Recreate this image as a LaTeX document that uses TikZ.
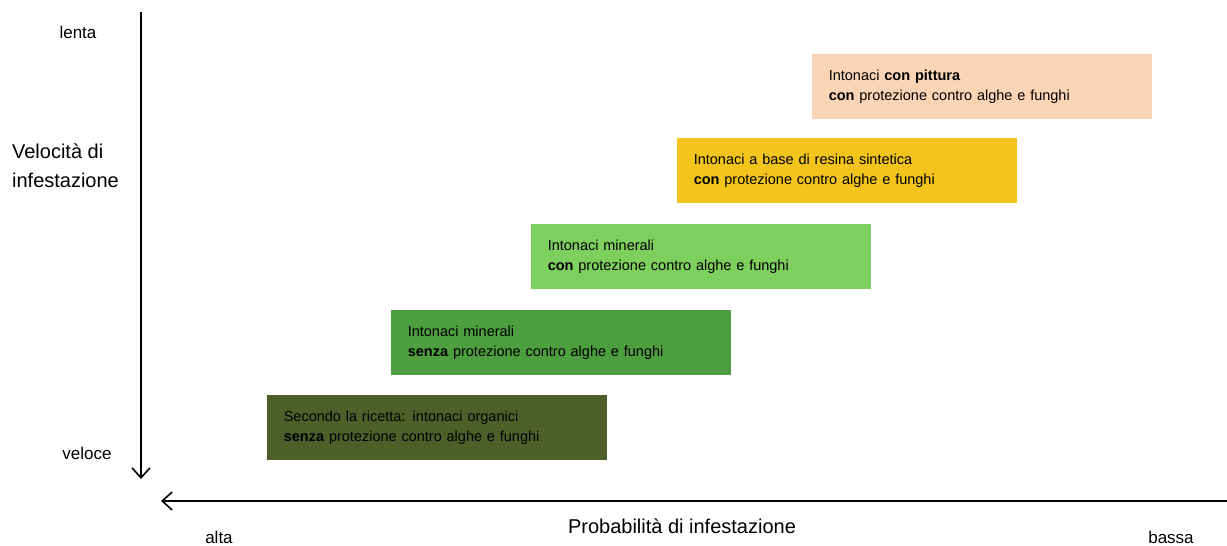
\documentclass[tikz,border=0pt]{standalone}
\usepackage{fontspec}
\setmainfont{Liberation Sans}
\usetikzlibrary{arrows.meta}
\usetikzlibrary{positioning}

\definecolor{peach}{HTML}{FAD4B4}
\definecolor{ochre}{HTML}{F2C41C}
\definecolor{lightgreen}{HTML}{7ED05E}
\definecolor{midgreen}{HTML}{4C9E3E}
\definecolor{olive}{HTML}{4E5F2A}

\begin{document}
\begin{tikzpicture}[x=1pt,y=-1pt,>={Straight Barb[length=10pt,width=18pt]},
					line width=1.6pt]
					\tikzstyle{plaster}=[anchor=north west,minimum width=340pt,minimum height=65pt,
					text width=306pt,inner xsep=17pt,inner ysep=0pt,align=left,
					font=\fontsize{14.5}{20}\selectfont]
					\tikzstyle{axislabel}=[inner sep=0pt,font=\fontsize{17}{20}\selectfont]
					
					\useasboundingbox (0,0) rectangle (1227,546);
					
					% assi
					\coordinate (v_top) at (141,12);
					\coordinate (v_bot) at (141,479);
					\coordinate (h_right) at (1227,501);
					\coordinate (h_left) at (161,501);
					\draw[->] (v_top) -- (v_bot);
					\draw[->] (h_right) -- (h_left);
					
					\node[axislabel] (lenta)  at (78,32)  {lenta};
					\node[axislabel] (veloce) at (87,453) {veloce};
					\node[anchor=west,align=left,font=\fontsize{20}{29}\selectfont] (vel) at (8,166)
						{Velocità di\\infestazione};
					\node[axislabel] (alta)  at (219,537)  {alta};
					\node[axislabel] (bassa) at (1171,537) {bassa};
					\node[font=\fontsize{20}{24}\selectfont] (prob) at (682,526) {Probabilità di infestazione};
					
					% intonaci
					\node[plaster,fill=peach]      (P_5) at (811,53)
						{Intonaci \textbf{con pittura}\\\textbf{con} protezione contro alghe e funghi\\[4pt]};
					\node[plaster,fill=ochre]      (P_4) at (676,137)
						{Intonaci a base di resina sintetica\\\textbf{con} protezione contro alghe e funghi\\[4pt]};
					\node[plaster,fill=lightgreen] (P_3) at (530,223)
						{Intonaci minerali\\\textbf{con} protezione contro alghe e funghi\\[4pt]};
					\node[plaster,fill=midgreen]   (P_2) at (390,309)
						{Intonaci minerali\\\textbf{senza} protezione contro alghe e funghi\\[4pt]};
					\node[plaster,fill=olive]      (P_1) at (266,394)
						{Secondo la ricetta: intonaci organici\\\textbf{senza} protezione contro alghe e funghi\\[4pt]};
\end{tikzpicture}
\end{document}
